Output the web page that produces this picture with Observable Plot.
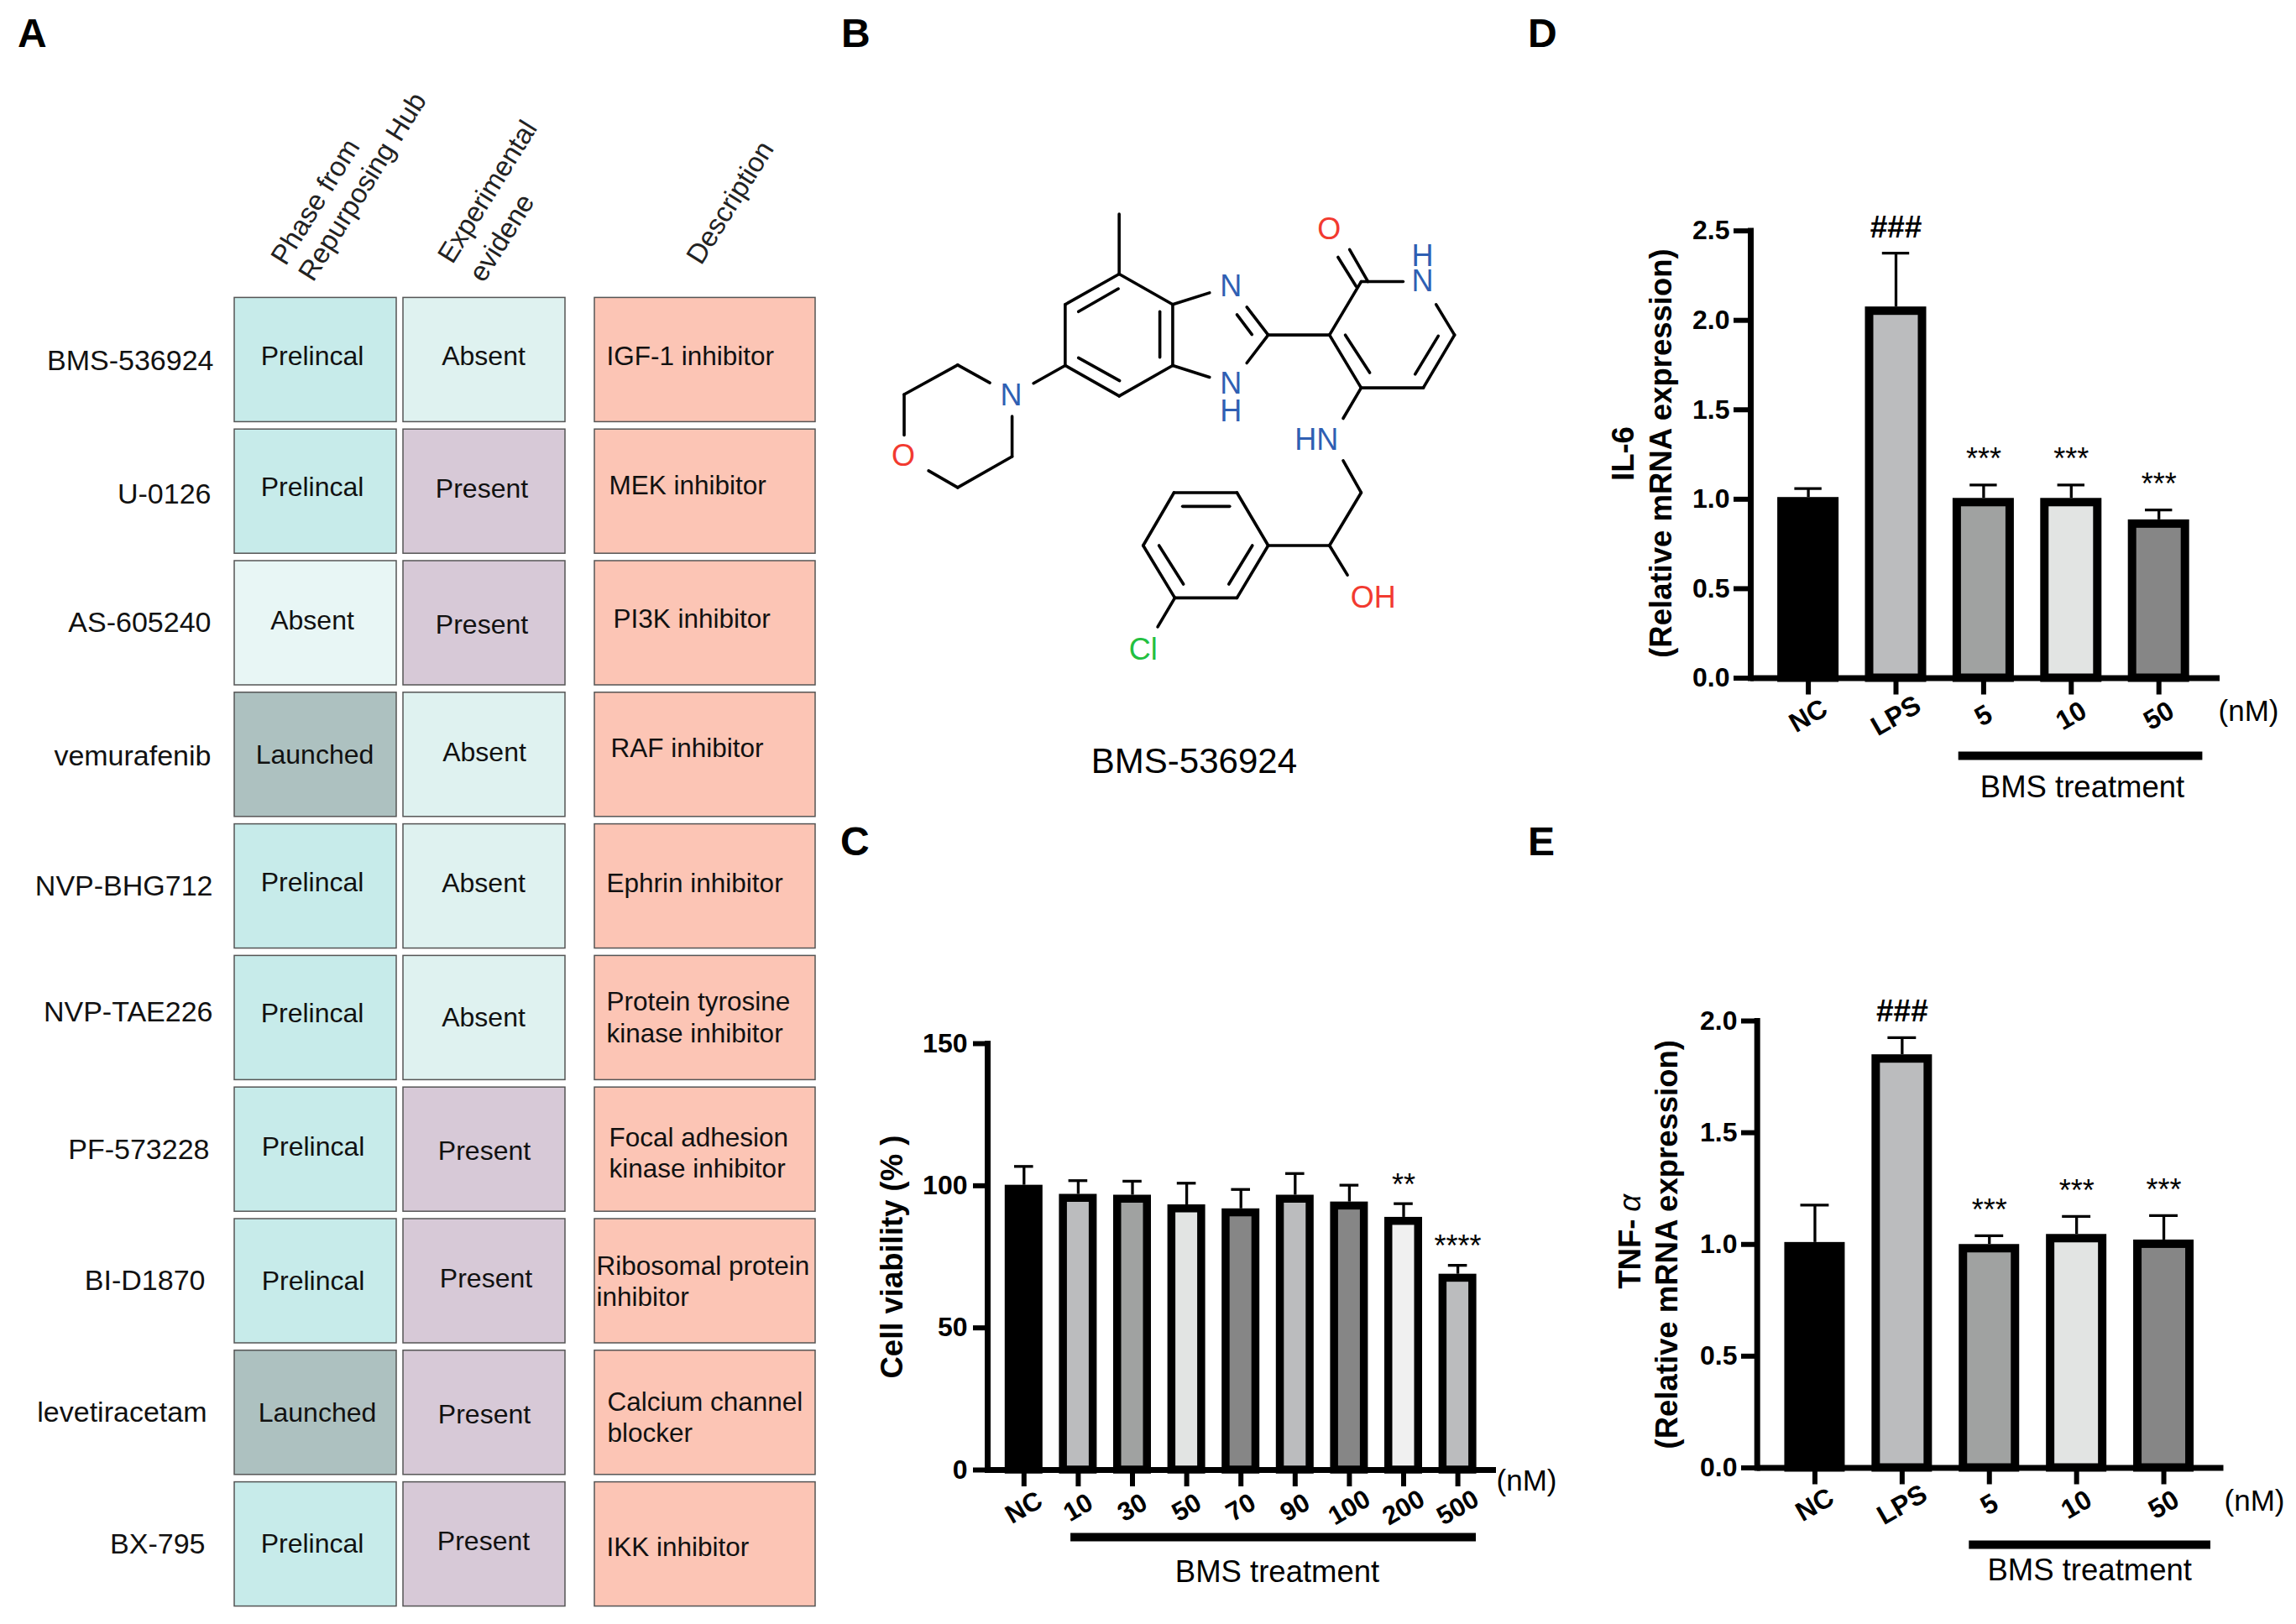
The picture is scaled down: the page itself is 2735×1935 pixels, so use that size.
<!DOCTYPE html>
<html><head><meta charset="utf-8">
<script src="https://cdn.jsdelivr.net/npm/d3@7"></script>
<script src="https://cdn.jsdelivr.net/npm/@observablehq/plot@0.6"></script>
<style>
html,body{margin:0;padding:0;background:#fff;}
#page{position:relative;width:2735px;height:1935px;overflow:hidden;background:#fff;font-family:"Liberation Sans",Arial,sans-serif;}
#page svg{position:absolute;background:transparent;overflow:visible;}
.letter{position:absolute;font-size:48px;line-height:1;font-weight:bold;color:#000;}
</style></head><body><div id="page"></div>
<script>
// ---------- Panel A data ----------
const drugs = ["BMS-536924","U-0126","AS-605240","vemurafenib","NVP-BHG712","NVP-TAE226","PF-573228","BI-D1870","levetiracetam","BX-795"];
const phase = ["Prelincal","Prelincal","Absent","Launched","Prelincal","Prelincal","Prelincal","Prelincal","Launched","Prelincal"];
const evidence = ["Absent","Present","Present","Absent","Absent","Absent","Present","Present","Present","Present"];
const description = ["IGF-1 inhibitor","MEK inhibitor","PI3K inhibitor","RAF inhibitor","Ephrin inhibitor","Protein tyrosine\nkinase inhibitor","Focal adhesion\nkinase inhibitor","Ribosomal protein\ninhibitor","Calcium channel\nblocker","IKK inhibitor"];
const columnsA = ["Phase from Repurposing Hub","Experimental evidene"];

// ---------- Panel C data ----------
const labelsC = ["NC","10","30","50","70","90","100","200","500"];
const valuesC = [100.2,97.0,96.7,93.3,91.9,96.7,94.3,88.9,68.9];
const errTopC = [106.8,101.8,101.6,100.9,98.7,104.3,100.2,93.7,72.0];
const sigC = ["","","","","","","","**","****"];
const ticksC = [0,50,100,150];

// ---------- Panel D data ----------
const labelsD = ["NC","LPS","5","10","50"];
const valuesD = [1.01,2.075,1.005,1.005,0.885];
const errTopD = [1.06,2.376,1.08,1.08,0.94];
const sigD = ["","###","***","***","***"];
const ticksD = [0,0.5,1,1.5,2,2.5];

// ---------- Panel E data ----------
const labelsE = ["NC","LPS","5","10","50"];
const valuesE = [1.009,1.849,1.0,1.045,1.02];
const errTopE = [1.176,1.925,1.039,1.125,1.129];
const sigE = ["","###","***","***","***"];
const ticksE = [0,0.5,1,1.5,2];

// ---------- Panel B structure (molecule drawing units) ----------
const bonds = [
 [652,420,652,538],[652,538,526,598],[526,598,526,718],[526,718,652,778],[652,778,777,718],[777,718,777,598],[777,598,652,538],
 [650,567,557,612],[557,703,653,748],[747,612,747,702],
 [777,598,863,575],[777,718,863,741],[950,603,1000,658],[927,618,962,657],[1000,658,950,713],
 [1000,658,1143,658],[1143,658,1217,553],[1217,553,1315,553],[1392,598,1435,658],[1435,658,1362,762],[1362,762,1217,762],[1217,762,1143,658],
 [1180,658,1237,732],[1397,660,1343,735],[1233,553,1190,490],[1205,562,1163,505],
 [1217,762,1175,822],[1175,905,1217,968],[1217,968,1143,1072],[1143,1072,1185,1130],[1143,1072,1000,1072],
 [1000,1072,927,968],[927,968,780,968],[780,968,708,1072],[708,1072,782,1175],[782,1175,927,1175],[927,1175,1000,1072],
 [800,995,910,995],[745,1072,802,1148],[963,1072,908,1148],[782,1175,742,1232],
 [452,753,526,718],[350,752,275,717],[275,717,150,775],[150,775,150,855],[207,925,275,958],[275,958,402,897],[402,897,402,818]
];
const atoms = [
 ["N",913,563,"N"],["N",913,755,"N"],["H",913,808,"N"],["O",1142,450,"O"],["H",1360,503,"N"],["N",1360,553,"N"],
 ["N",400,777,"N"],["O",148,897,"O"],["HN",1113,865,"N"],["OH",1245,1175,"O"],["Cl",708,1277,"Cl"]
];
const compound = "BMS-536924";

// ---------- helpers ----------
const page = document.getElementById("page");
const FONT = '"Liberation Sans",Arial,sans-serif';
function place(svg,left,top){svg.style.left=left+"px";svg.style.top=top+"px";page.appendChild(svg);}
[["A",21,16],["B",1002,16],["C",1001,979],["D",1820,16],["E",1820,979]].forEach(([t,x,y])=>{
  const s=document.createElement("div");s.className="letter";s.textContent=t;s.style.left=x+"px";s.style.top=y+"px";page.appendChild(s);
});

// ---------- Panel A ----------
const rowsA = drugs.flatMap((drug,i)=>[
  {drug,col:columnsA[0],text:phase[i],key:phase[i]==="Absent"?"Absent phase":phase[i]},
  {drug,col:columnsA[1],text:evidence[i],key:evidence[i]==="Absent"?"Absent evidence":evidence[i]}
]);
const nudgePhase = [[-4,-4],[-4,-5],[-4,-3],[-1,0],[-4,-4],[-4,-5],[-3,-3],[-3,0],[2,0],[-4,0]];
const nudgeEvidence = [[-1,-4],[-3,-3],[-3,2],[0,-3],[-1,-3],[-1,0],[0,2],[2,-3],[0,2],[-1,-3]];
const nudgeLabel = [[254,1],[251,3],[251,0],[251,2],[253,0],[253,-7],[249,0],[244,0],[246,0],[244,0]];
const cellText = rowsA.map((r,i)=>{
  const k=Math.floor(i/2), n=(i%2?nudgeEvidence:nudgePhase)[k];
  return Plot.text([r],{x:"col",y:"drug",text:"text",dx:n[0],dy:n[1],fontSize:32,fill:"#111"});
});
const labelText = drugs.map((d,i)=>Plot.text([d],{y:d2=>d2,text:d2=>d2,frameAnchor:"left",textAnchor:"end",dx:nudgeLabel[i][0],dy:nudgeLabel[i][1],fontSize:34,fill:"#111"}));
const heads = [
 {col:columnsA[0],t:"Phase from",dx:0,dy:240},{col:columnsA[0],t:"Repurposing Hub",dx:56,dy:222},
 {col:columnsA[1],t:"Experimental",dx:4,dy:228},{col:columnsA[1],t:"evidene",dx:21,dy:283}
];
place(Plot.plot({
  width:1000,height:1935,margin:0,style:{fontFamily:FONT,background:"transparent"},
  x:{domain:columnsA,range:[275,677],padding:0,round:false,axis:null},
  y:{domain:drugs,range:[350,1918],padding:0,round:false,axis:null},
  color:{domain:["Prelincal","Launched","Absent phase","Absent evidence","Present"],range:["#C7EBEA","#ADC1C0","#E8F6F5","#DFF2F0","#D7C9D7"]},
  marks:[
    Plot.cell(rowsA,{x:"col",y:"drug",fill:"key",stroke:"#555",strokeWidth:1.5,insetLeft:4,insetRight:4,insetTop:4.4,insetBottom:4.4}),
    ...cellText,...labelText,
    ...heads.map(h=>Plot.text([h],{x:"col",text:"t",frameAnchor:"top",lineAnchor:"middle",dx:h.dx,dy:h.dy,rotate:-58,fontSize:33,fill:"#222"}))
  ]}),0,0);
const nudgeDesc = [18,21,26,23,18,18,21,6,19,18];
const nudgeDescY = [-6,-9,-7,-9,-5,-2,3,-1,4,2];
const rowsDesc = drugs.map((drug,i)=>({drug,col:"Description",text:description[i]}));
place(Plot.plot({
  width:271,height:1935,margin:0,style:{fontFamily:FONT,background:"transparent"},
  x:{domain:["Description"],range:[0,271],padding:0,round:false,axis:null},
  y:{domain:drugs,range:[350,1918],padding:0,round:false,axis:null},
  marks:[
    Plot.cell(rowsDesc,{x:"col",y:"drug",fill:"#FCC5B5",stroke:"#555",strokeWidth:1.5,insetLeft:4,insetRight:4,insetTop:4.4,insetBottom:4.4}),
    ...rowsDesc.map((r,i)=>Plot.text([r],{y:"drug",text:"text",frameAnchor:"left",textAnchor:"start",dx:nudgeDesc[i],dy:nudgeDescY[i],fontSize:31.5,lineHeight:1.19,fill:"#111"})),
    Plot.text(["Description"],{frameAnchor:"top",lineAnchor:"middle",dy:241,dx:30,rotate:-58,fontSize:33,fill:"#222"})
  ]}),704,0);

// ---------- Panel B ----------
const atomRows = atoms.map(a=>({t:a[0],x:a[1],y:a[2],el:a[3]}));
place(Plot.plot({
  width:800,height:950,margin:0,style:{fontFamily:FONT,background:"transparent"},
  x:{domain:[0,1568],range:[0,800],axis:null},
  y:{domain:[0,1568],range:[0,950],axis:null},
  color:{domain:["N","O","Cl"],range:["#2F5FB3","#F23A30","#22C040"]},
  marks:[
    Plot.link(bonds,{x1:d=>d[0],y1:d=>d[1],x2:d=>d[2],y2:d=>d[3],stroke:"#000",strokeWidth:3.6,strokeLinecap:"round"}),
    Plot.text(atomRows,{x:"x",y:"y",text:"t",fill:"el",fontSize:36}),
    Plot.text([compound],{x:()=>827,y:()=>1497,text:d=>d,fontSize:42,fill:"#000"})
  ]}),1000,0);

// ---------- Bar panels ----------
function barPanel(o){
  const rows=o.labels.map((l,i)=>({l,v:o.values[i],top:o.err[i],sig:o.sig[i],fill:o.fills[i]}));
  const sw=o.stroke;
  return Plot.plot({
    width:o.W,height:o.H,marginLeft:o.ml,marginRight:o.mr,marginTop:o.mt,marginBottom:o.mb,
    style:{fontFamily:FONT,background:"transparent"},
    x:{domain:o.labels,range:o.xr,padding:0,round:false},
    y:{domain:o.yd,nice:false},
    color:{type:"ordinal",domain:o.fillKeys,range:o.fillKeys},
    marks:[
      Plot.ruleX(rows,{x:"l",y1:"v",y2:"top",strokeWidth:3.3}),
      Plot.tickY(rows,{x:"l",y:"top",strokeWidth:3.3,insetLeft:o.capIn,insetRight:o.capIn}),
      Plot.barY(rows,{x:"l",y:"v",fill:"fill",stroke:"#000",strokeWidth:sw,insetLeft:o.barIn,insetRight:o.barIn,insetTop:sw/2}),
      Plot.frame({anchor:"left",strokeWidth:7,stroke:"#000"}),
      Plot.ruleY([0],{strokeWidth:7,stroke:"#000"}),
      Plot.axisY({ticks:o.ticks,tickSize:o.tick,tickPadding:o.pad,strokeWidth:6,fontSize:32,fontWeight:"bold",label:null,tickFormat:o.fmt,fill:"#000"}),
      Plot.axisX({tickSize:20,strokeWidth:6,tickFormat:()=>"",label:null}),
      Plot.text(rows,{x:"l",y:()=>0,text:"l",dy:o.labDy,rotate:-30,fontSize:o.labFont,fontWeight:"bold",fill:"#000"}),
      Plot.text(rows.filter(r=>r.sig==="###"),{x:"l",y:"top",text:"sig",dy:o.hashDy,fontSize:37,fontWeight:"bold",fill:"#000"}),
      Plot.text(rows.filter(r=>r.sig&&r.sig!=="###"),{x:"l",y:"top",text:"sig",dy:o.starDy,fontSize:36,fill:"#000"}),
      Plot.ruleY([0],{x1:()=>o.barFrom,x2:()=>o.barTo,dy:o.barDy,strokeWidth:10,insetLeft:o.barL,insetRight:o.barR,stroke:"#000"}),
      Plot.text(["(nM)"],{frameAnchor:"bottom-right",textAnchor:"middle",lineAnchor:"middle",dx:o.nm[0],dy:o.nm[1],fontSize:35,fill:"#000"}),
      Plot.text(["BMS treatment"],{frameAnchor:"bottom-left",textAnchor:"middle",lineAnchor:"middle",dx:o.bt[0],dy:o.bt[1],fontSize:36.5,fill:"#000"}),
      ...o.ylab
    ]});
}
const yt=(t,dx,dy,extra={})=>Plot.text([t],{frameAnchor:"left",textAnchor:"middle",dx,dy,rotate:-90,fontSize:36.5,fontWeight:"bold",fill:"#000",...extra});
const greys={b:"#000000",l:"#BBBCBE",m:"#A0A2A1",p:"#E2E4E3",d:"#868686",w:"#F0F0F0"};
const keys=Object.values(greys);

place(barPanel({W:900,H:730,ml:176,mr:118,mt:43,mb:179,xr:[187,768.4],yd:[0,150],ticks:ticksC,fmt:d3.format("d"),tick:17,pad:7,
  labels:labelsC,values:valuesC,err:errTopC,sig:sigC,fills:[greys.b,greys.l,greys.m,greys.p,greys.d,greys.l,greys.d,greys.w,greys.l],fillKeys:keys,
  stroke:9.5,barIn:14.55,capIn:21,labDy:45,labFont:31,hashDy:-30,starDy:-22,barFrom:"10",barTo:"500",barDy:80,barL:23.5,barR:10.4,
  nm:[36,13],bt:[345,122],ylab:[yt("Cell viability (% )",-113,0)]}),1000,1200);
place(barPanel({W:935,H:780,ml:285,mr:91,mt:74.6,mb:172.5,xr:[301.4,823.4],yd:[0,2.5],ticks:ticksD,fmt:d3.format(".1f"),tick:20,pad:5,
  labels:labelsD,values:valuesD,err:errTopD,sig:sigD,fills:[greys.b,greys.l,greys.m,greys.p,greys.d],fillKeys:keys,
  stroke:10,barIn:20.7,capIn:36,labDy:45,labFont:32,hashDy:-30,starDy:-30,barFrom:"5",barTo:"50",barDy:92.5,barL:22.5,barR:0,
  nm:[34,40],bt:[395,130],ylab:[yt("(Relative mRNA expression)",-106,-1.5),yt("IL-6",-151,-1)]}),1800,200);
place(barPanel({W:885,H:780,ml:242.7,mr:86.5,mt:66,mb:181.5,xr:[259.5,779],yd:[0,2],ticks:ticksE,fmt:d3.format(".1f"),tick:18.7,pad:5,
  labels:labelsE,values:valuesE,err:errTopE,sig:sigE,fills:[greys.b,greys.l,greys.m,greys.p,greys.d],fillKeys:keys,
  stroke:10,barIn:20.95,capIn:35,labDy:44,labFont:32,hashDy:-31,starDy:-30,barFrom:"5",barTo:"50",barDy:91.5,barL:28,barR:-4,
  nm:[36.5,39.5],bt:[396,122.5],ylab:[yt("(Relative mRNA expression)",-107,0),
    yt("TNF-",-150.7,0,{textAnchor:"start",dy:53}),
    yt("\u03b1",-150.7,0,{textAnchor:"start",dy:-39,fontStyle:"italic",fontWeight:"normal"})]}),1850,1150);
</script></body></html>
